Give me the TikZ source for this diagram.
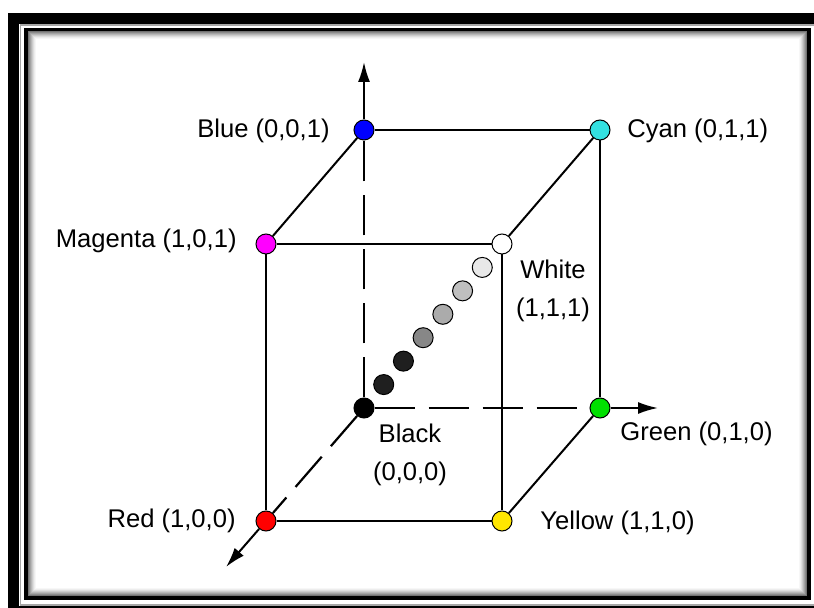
\documentclass[tikz,border=0pt]{standalone}
\usepackage{fontspec}
\setmainfont{Liberation Sans}
\usepackage{xcolor}
\usepackage{tikz}
\usetikzlibrary{arrows.meta,positioning,calc}

\definecolor{cubeblue}{HTML}{0000FF}
\definecolor{cubecyan}{HTML}{33E0E0}
\definecolor{cubemagenta}{HTML}{FF00FF}
\definecolor{cubegreen}{HTML}{00E000}
\definecolor{cubered}{HTML}{FF0000}
\definecolor{cubeyellow}{HTML}{FFE600}

\begin{document}
\begin{tikzpicture}[x=0.5pt,y=-0.5pt,
  dot/.style={circle,draw,line width=0.5pt,inner sep=0pt,minimum size=10pt},
  lbl/.style={inner sep=0pt,font=\fontsize{12.8}{19}\selectfont},
  edge/.style={line width=1pt},
  axis/.style={line width=1.1pt,dash pattern=on 20pt off 7pt},
  >={Latex[length=10pt,width=6pt]}]
\useasboundingbox (0,0) rectangle (814,608);
\clip (0,0) rectangle (814,608);
% frame
\draw[line width=5.5pt] (13.5,18.5) rectangle (822,611.5);
\draw[black!35,line width=0.6pt] (20.5,25) rectangle (816,605);
\draw[line width=2pt] (26,30) rectangle (808.5,598);
\foreach \i/\s in {1/55,2/45,3/36,4/28,5/20,6/13,7/7,8/3}
  \draw[black!\s,line width=0.5pt] (27+\i,31+\i) rectangle (807.5-\i,597-\i);

% corners of the cube
\node[dot,fill=black] (black) at (364,408) {};
\node[dot,fill=cubeblue] (blue) at (364,130) {};
\node[dot,fill=cubecyan] (cyan) at (600,130) {};
\node[dot,fill=cubegreen] (green) at (600,408) {};
\node[dot,fill=cubemagenta] (magenta) at (266,244) {};
\node[dot,fill=white] (white) at (502,244) {};
\node[dot,fill=cubered] (red) at (266,521) {};
\node[dot,fill=cubeyellow] (yellow) at (502,521) {};
\coordinate (ztip) at (364,62);
\coordinate (ytip) at (658,408);
\coordinate (xtip) at (226,567);

% axes
\draw[axis] (black) -- (blue);
\draw[axis] (black) -- (green);
\draw[axis] (black) -- (red);
\draw[edge,->] (blue) -- (ztip);
\draw[edge,->] (green) -- (ytip);
\draw[edge,->] (red) -- (xtip);

% edges
\draw[edge] (blue) -- (cyan);
\draw[edge] (blue) -- (magenta);
\draw[edge] (cyan) -- (white);
\draw[edge] (cyan) -- (green);
\draw[edge] (magenta) -- (white);
\draw[edge] (magenta) -- (red);
\draw[edge] (white) -- (yellow);
\draw[edge] (red) -- (yellow);
\draw[edge] (yellow) -- (green);

% grey scale
\foreach \k/\s in {1/88,2/88,3/47,4/33,5/25,6/9}
  \node[dot,fill=black!\s] (grey\k) at ($(black)!\k/7!(white)$) {};

% labels
\node[lbl,anchor=base east] (bluelbl) at (330,138) {Blue (0,0,1)};
\node[lbl,anchor=base west] (cyanlbl) at (627,138) {Cyan (0,1,1)};
\node[lbl,anchor=base east] (magentalbl) at (237,248) {Magenta (1,0,1)};
\node[lbl,anchor=north,align=center] (whitelbl) at (553,260) {White\\(1,1,1)};
\node[lbl,anchor=north,align=center] (blacklbl) at (410,424) {Black\\(0,0,0)};
\node[lbl,anchor=base west] (greenlbl) at (620,441) {Green (0,1,0)};
\node[lbl,anchor=base east] (redlbl) at (236,528) {Red (1,0,0)};
\node[lbl,anchor=base west] (yellowlbl) at (540,530) {Yellow (1,1,0)};
\end{tikzpicture}
\end{document}
